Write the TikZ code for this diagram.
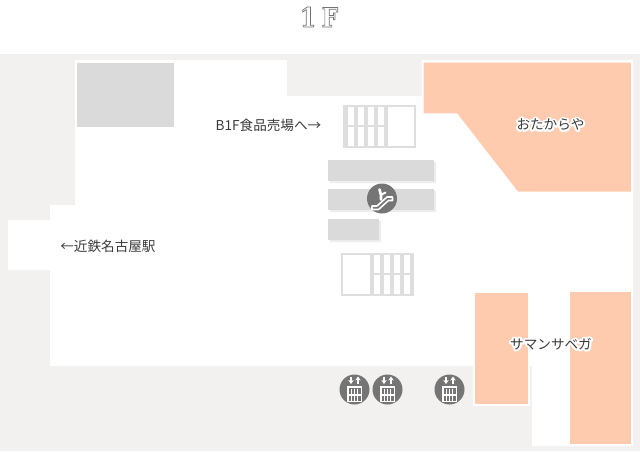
\documentclass[tikz,border=0pt]{standalone}
\usepackage{fontspec}
\usepackage{graphicx}
\usetikzlibrary{arrows.meta}
\newfontfamily\cjk{Noto Sans CJK JP}
\newfontfamily\titlef{DejaVu Serif}
\definecolor{wallbg}{HTML}{F2F1EF}
\definecolor{shop}{HTML}{FFCBAE}
\definecolor{blockc}{HTML}{DBDADA}
\definecolor{stairc}{HTML}{DEDEDE}
\definecolor{iconc}{HTML}{757575}
\definecolor{textc}{HTML}{3A3A3A}
\newcommand{\halotext}[1]{\leavevmode\rlap{\textcolor{white}{\special{pdf:code q 1 Tr 3 w 1 j}#1\special{pdf:code Q}}}#1}
\newcommand{\outlinetext}[1]{\textcolor{black!55}{\special{pdf:code q 1 Tr 0.55 w}#1\special{pdf:code Q}}}
\tikzset{
  x=0.75pt,y=-0.75pt,
  shopshape/.style={fill=shop,draw=white,line width=1.5pt,line join=miter},
  stairframe/.style={draw=stairc,line width=1.9pt},
  stairline/.style={draw=stairc,line width=2.6pt},
  icondisc/.style={circle,fill=iconc,draw=none,minimum size=22.5pt,inner sep=0pt},
  iconline/.style={draw=white,line width=0.9pt},
  label/.style={font=\cjk\fontsize{10.2pt}{12pt}\selectfont,text=textc,inner sep=0pt},
}
\begin{document}
\begin{tikzpicture}
\useasboundingbox (0,0) rectangle (640,451);
\fill[white] (0,0) rectangle (640,451);
\fill[wallbg] (0,54) rectangle (640,451);
% floor
\fill[white] (75,60) -- (287,60) -- (287,96) -- (422,96) -- (422,60) -- (633,60) -- (633,446) -- (532,446) -- (532,366) -- (50,366) -- (50,270) -- (8,270) -- (8,220) -- (50,220) -- (50,205) -- (75,205) -- cycle;
% shops
\path[shopshape] (422.5,61.5) -- (632,61.5) -- (632,192.7) -- (517.5,192.7) -- (456.5,114.3) -- (422.5,114.3) -- cycle;
\path[shopshape] (474,291.7) -- (529,291.7) -- (529,405) -- (474,405) -- cycle;
\path[shopshape] (568.5,291) -- (631.7,291) -- (631.7,445) -- (568.5,445) -- cycle;
% block
\path[fill=blockc,draw=white,line width=1.5pt] (76,61.7) rectangle (175,128.3);
% bars
\fill[black!7] (330,162) rectangle (436,183) (330,191) rectangle (436,212) (330,221) rectangle (381,242);
\fill[blockc] (328,160) rectangle (434,181);
\fill[blockc] (328,189) rectangle (434,210);
\fill[blockc] (328,219) rectangle (379,240);
% stairs top
\draw[stairframe] (344,106) rectangle (415,147);
\draw[stairline] (346,106) -- (346,147) (356,106) -- (356,147) (366,106) -- (366,147) (376,106) -- (376,147) (386,106) -- (386,147);
\draw[stairframe] (344,125.8) -- (386,125.8);
% stairs bottom
\draw[stairframe] (342,254) rectangle (413,295);
\draw[stairline] (372,254) -- (372,295) (382,254) -- (382,295) (392,254) -- (392,295) (402,254) -- (402,295) (412,254) -- (412,295);
\draw[stairframe] (372,274) -- (413,274);
% escalator icon
\node[icondisc] (esc) at (382,198.5) {};
\draw[white,line width=1.2pt,line join=round,line cap=round] (372,206) -- (377,206) -- (387,197) -- (392.5,197) -- (392.5,200.5) -- (388.5,200.5) -- (378.5,209.5) -- (372,209.5) -- cycle;
\draw[white,line width=2pt,line join=round,line cap=round] (379.5,189.5) -- (381,195) -- (381,199.5);
\draw[white,line width=1.5pt,line cap=round] (381,195) -- (385.5,192.5);
% elevators
\foreach \n/\cx in {a/354.5,b/387.5,c/449.5}{
  \node[icondisc] (ev\n) at (\cx,389.5) {};
  \fill[white] (\cx-7.5,386) rectangle (\cx+7.5,402);
  \fill[iconc] (\cx-6,387.5) rectangle (\cx+6,400.5);
  \draw[white,line width=0.8pt] (\cx-2.8,388.5) -- (\cx-2.8,400.5) (\cx,388.5) -- (\cx,400.5) (\cx+2.8,388.5) -- (\cx+2.8,400.5) (\cx-6,395) -- (\cx+6,395);
  \draw[iconline,-{Stealth[length=3pt,width=4pt]}] (\cx-3.5,376.5) -- (\cx-3.5,384);
  \draw[iconline,-{Stealth[length=3pt,width=4pt]}] (\cx+3.5,384) -- (\cx+3.5,376.5);
}
% labels
\node[inner sep=0pt] (title) at (319,17) {\titlef\bfseries\fontsize{20pt}{24pt}\selectfont\scalebox{0.86}[1]{\outlinetext{1\hspace{5pt}F}}};
\node[label] (b1) at (268.5,125.5) {B1F食品売場へ→};
\node[label] (kin) at (108,246.5) {←近鉄名古屋駅};
\node[label] (ota) at (550.5,124.5) {\halotext{おたからや}};
\node[label] (sam) at (551,344) {\halotext{サマンサベガ}};
\end{tikzpicture}
\end{document}
